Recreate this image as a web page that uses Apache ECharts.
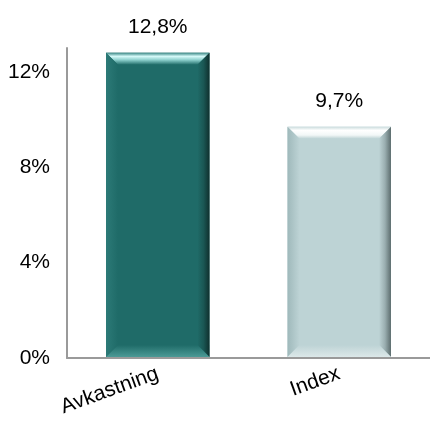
<!DOCTYPE html>
<html>
<head>
<meta charset="utf-8">
<script src="https://cdn.jsdelivr.net/npm/echarts@6/dist/echarts.min.js"></script>
<style>html,body{margin:0;padding:0;background:#fff;}#c{width:430px;height:425px;}</style>
</head>
<body>
<div id="c"></div>
<script>
const categories = ['Avkastning', 'Index'];
const values = [12.8, 9.7];
const labels = ['12,8%', '9,7%'];
const yTicks = [0, 4, 8, 12];

const FONT = '"Liberation Sans", Arial, sans-serif';
const FS = 21;
const palettes = [
  {main: '#1F6B68',
   top: [[0, '#3A8784'], [0.3, '#D6FAF9'], [0.6, '#8CCFCC'], [1, '#1F6B68']],
   right: [[0, '#1F6B68'], [0.5, '#1A5754'], [1, '#0F302E']],
   left: [[0, '#2C7A77'], [1, '#1F6B68']],
   bottom: [[0, '#1F6B68'], [1, '#4C9A96']]},
  {main: '#BDD3D5',
   top: [[0, '#C9DBDC'], [0.3, '#FFFFFF'], [0.7, '#F2F7F7'], [1, '#BDD3D5']],
   right: [[0, '#BDD3D5'], [0.5, '#9AAEB0'], [1, '#5C6D6E']],
   left: [[0, '#9FB9BB'], [1, '#BDD3D5']],
   bottom: [[0, '#BDD3D5'], [1, '#DCE8E9']]}
];
function grad(x2, y2, stops) {
  return new echarts.graphic.LinearGradient(0, 0, x2, y2, stops.map(s => ({offset: s[0], color: s[1]})));
}

const chart = echarts.init(document.getElementById('c'));
chart.setOption({
  animation: false,
  grid: {left: 67, right: -8, top: 48, bottom: 67},
  xAxis: {
    type: 'category', data: categories,
    axisLine: {lineStyle: {color: '#9a9a9a', width: 2}},
    axisTick: {show: false},
    axisLabel: {rotate: 20, color: '#000', fontSize: FS, fontFamily: FONT, margin: 15}
  },
  yAxis: {
    type: 'value', min: 0, max: 13, interval: 4,
    axisLine: {show: true, lineStyle: {color: '#9a9a9a', width: 2}},
    axisTick: {show: false},
    splitLine: {show: false},
    axisLabel: {color: '#000', fontSize: FS, fontFamily: FONT, margin: 17,
      formatter: v => yTicks.includes(v) ? v + '%' : ''}
  },
  series: [{
    type: 'custom',
    data: values.map((v, i) => [i, v]),
    renderItem: function (params, api) {
      const i = api.value(0), v = api.value(1);
      const top = api.coord([i, v]);
      const base = api.coord([i, 0]);
      const band = api.size([1, 0])[0];
      const w = band * 0.57;
      const x0 = top[0] - w / 2, x1 = top[0] + w / 2;
      const y0 = top[1], y1 = base[1] - 1;
      const b = 12;
      const p = palettes[i];
      return {
        type: 'group',
        children: [
          {type: 'rect', shape: {x: x0, y: y0, width: w, height: y1 - y0}, style: {fill: p.main}},
          {type: 'polygon', shape: {points: [[x0, y0], [x1, y0], [x1 - b, y0 + b], [x0 + b, y0 + b]]},
            style: {fill: grad(0, 1, p.top)}},
          {type: 'polygon', shape: {points: [[x1, y0], [x1, y1], [x1 - b, y1 - b], [x1 - b, y0 + b]]},
            style: {fill: grad(1, 0, p.right)}},
          {type: 'polygon', shape: {points: [[x0, y0], [x0 + b, y0 + b], [x0 + b, y1 - b], [x0, y1]]},
            style: {fill: grad(1, 0, p.left)}},
          {type: 'polygon', shape: {points: [[x0, y1], [x0 + b, y1 - b], [x1 - b, y1 - b], [x1, y1]]},
            style: {fill: grad(0, 1, p.bottom)}},
          {type: 'text', style: {text: labels[i], x: top[0], y: y0 - 15, align: 'center', verticalAlign: 'bottom',
            fill: '#000', fontSize: FS, fontFamily: FONT}}
        ]
      };
    }
  }]
});
</script>
</body>
</html>
